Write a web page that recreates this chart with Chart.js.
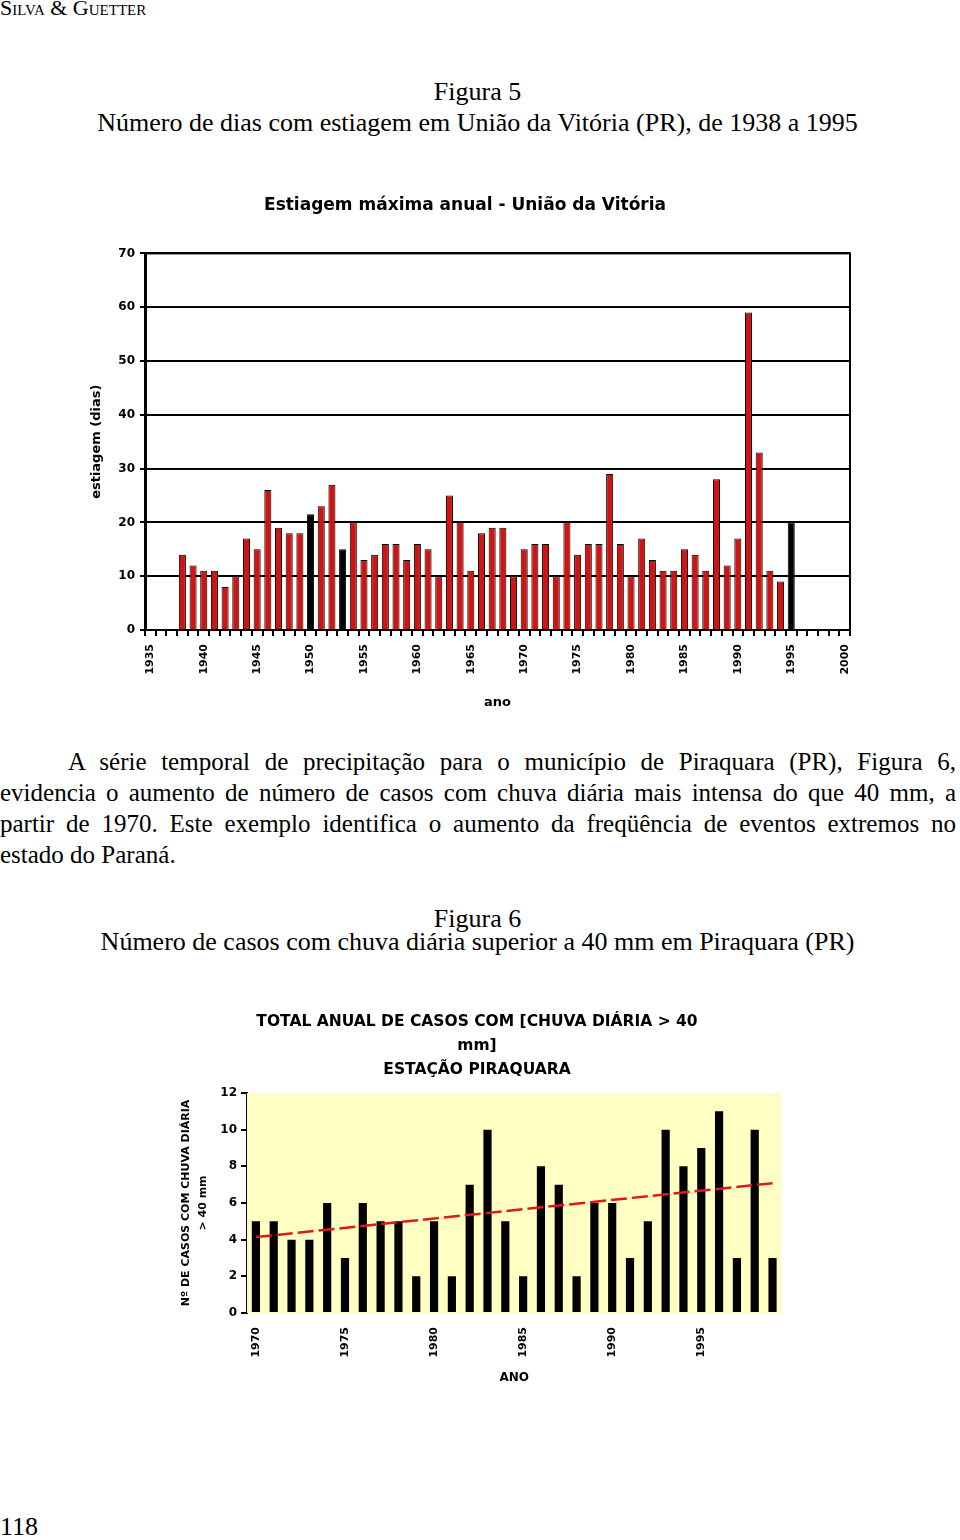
<!DOCTYPE html>
<html>
<head>
<meta charset="utf-8">
<script src="https://cdn.jsdelivr.net/npm/chart.js@4"></script>
<style>
  body { margin: 0; width: 960px; height: 1540px; background: #fff; position: relative; font-family: "Liberation Serif", "Times New Roman", serif; color: #000; }
  .t { position: absolute; font-size: 26px; line-height: 24px; white-space: nowrap; }
  .c { left: 0; width: 955px; text-align: center; }
  #cab { position: absolute; left: 0; top: -1px; font-size: 22px; line-height: 18px; font-variant: small-caps; }
  #par { position: absolute; left: 0; top: 746px; width: 956px; font-size: 25px; line-height: 31px; }
  #par div { text-align: justify; text-align-last: justify; white-space: nowrap; }
  #par div.ult { text-align-last: left; }
  #par div.ind { padding-left: 68px; }
  #box1 { position: absolute; left: 80px; top: 180px; }
  #box2 { position: absolute; left: 170px; top: 1005px; }
</style>
</head>
<body>
<div id="cab">Silva &amp; Guetter</div>
<div class="t c" style="top:80px">Figura 5</div>
<div class="t c" style="top:111px">Número de dias com estiagem em União da Vitória (PR), de 1938 a 1995</div>
<div id="box1"><canvas id="grafico1" width="790" height="540"></canvas></div>
<div id="par">
  <div class="ind">A série temporal de precipitação para o município de Piraquara (PR), Figura 6,</div>
  <div>evidencia o aumento de número de casos com chuva diária mais intensa do que 40 mm, a</div>
  <div>partir de 1970. Este exemplo identifica o aumento da freqüência de eventos extremos no</div>
  <div class="ult">estado do Paraná.</div>
</div>
<div class="t c" style="top:907px">Figura 6</div>
<div class="t c" style="top:930px">Número de casos com chuva diária superior a 40 mm em Piraquara (PR)</div>
<div id="box2"><canvas id="grafico2" width="630" height="390"></canvas></div>
<div class="t" style="left:0;top:1515px">118</div>

<script>
// Figura 5 - estiagem máxima anual, União da Vitória
const anos1 = [];
for (let a = 1935; a <= 2000; a++) anos1.push(String(a));
const estiagem = [
  null, null, null,
  14, 12, 11, 11, 8, 10, 17, 15, 26, 19,      // 1938-1947
  18, 18, 21.5, 23, 27, 15, 20, 13, 14, 16,   // 1948-1957
  16, 13, 16, 15, 10, 25, 20, 11, 18, 19,     // 1958-1967
  19, 10, 15, 16, 16, 10, 20, 14, 16, 16,     // 1968-1977
  29, 16, 10, 17, 13, 11, 11, 15, 14, 11,     // 1978-1987
  28, 12, 17, 59, 33, 11, 9, 20,              // 1988-1995
  null, null, null, null, null
];
const anosPretos = ['1950', '1953', '1995'];
const ticksY1 = [0, 10, 20, 30, 40, 50, 60, 70];

// Figura 6 - casos com chuva diária > 40 mm, Piraquara
const anos2 = [];
for (let a = 1970; a <= 1999; a++) anos2.push(String(a));
const casos = [
  5, 5, 4, 4, 6, 3, 6, 5, 5, 2,
  5, 2, 7, 10, 5, 2, 8, 7, 2, 6,
  6, 3, 5, 10, 8, 9, 11, 3, 10, 3
];
const tendencia = [ { x: '1970', y: 4.14 }, { x: '1999', y: 7.08 } ];

Chart.defaults.animation = false;
Chart.defaults.color = '#000';

const moldura = {
  id: 'moldura',
  afterDatasetsDraw(chart) {
    const a = chart.chartArea, ctx = chart.ctx;
    ctx.save();
    ctx.strokeStyle = '#000';
    ctx.lineWidth = 2;
    ctx.strokeRect(a.left, a.top, a.right - a.left, a.bottom - a.top);
    ctx.restore();
  }
};

const fundoAmarelo = {
  id: 'fundoAmarelo',
  beforeDatasetsDraw(chart) {
    const a = chart.chartArea, ctx = chart.ctx;
    ctx.save();
    ctx.fillStyle = '#FFFFC4';
    ctx.fillRect(a.left, a.top, a.right - a.left, a.bottom - a.top);
    ctx.restore();
  }
};

new Chart(document.getElementById('grafico1'), {
  type: 'bar',
  data: {
    labels: anos1,
    datasets: [{
      data: estiagem,
      backgroundColor: anos1.map(a => anosPretos.includes(a) ? '#000' : '#D01414'),
      borderColor: '#000',
      borderWidth: 1,
      barPercentage: 0.66,
      categoryPercentage: 1
    }]
  },
  options: {
    responsive: false,
    layout: { padding: { left: 0, right: 20, top: 0, bottom: 0 } },
    plugins: {
      legend: { display: false },
      tooltip: { enabled: false },
      title: {
        display: true,
        text: 'Estiagem máxima anual - União da Vitória',
        font: { family: 'DejaVu Sans', size: 17, weight: 'bold' },
        padding: { top: 15, bottom: 38 }
      }
    },
    scales: {
      y: {
        min: 0, max: 70,
        afterBuildTicks: s => { s.ticks = ticksY1.map(v => ({ value: v })); },
        afterFit: s => { s.width = 65; },
        ticks: { font: { family: 'DejaVu Sans', size: 12, weight: 'bold' }, padding: 5 },
        grid: { color: '#000', lineWidth: 2, tickLength: 5 },
        border: { color: '#000', width: 3 },
        title: {
          display: true, text: 'estiagem (dias)',
          font: { family: 'DejaVu Sans', size: 13, weight: 'bold' },
          padding: { top: 9, bottom: 0 }
        }
      },
      x: {
        afterFit: s => { s.height = 90; },
        ticks: {
          autoSkip: false, minRotation: 90, maxRotation: 90, padding: 8,
          font: { family: 'DejaVu Sans', size: 11, weight: 'bold' },
          callback: function (v, i) { const a = anos1[i]; return Number(a) % 5 === 0 ? a : ''; }
        },
        grid: { color: '#000', lineWidth: 2, tickLength: 6, drawOnChartArea: false },
        border: { color: '#000', width: 2 },
        title: {
          display: true, text: 'ano',
          font: { family: 'DejaVu Sans', size: 13, weight: 'bold' },
          padding: { top: 0, bottom: 10 }
        }
      }
    }
  },
  plugins: [moldura]
});

new Chart(document.getElementById('grafico2'), {
  data: {
    labels: anos2,
    datasets: [
      {
        type: 'line',
        data: tendencia,
        borderColor: '#DD1A1A',
        borderWidth: 2.5,
        borderDash: [16, 5],
        pointRadius: 0,
        order: 0
      },
      {
        type: 'bar',
        data: casos,
        backgroundColor: '#000',
        barPercentage: 0.46,
        categoryPercentage: 1,
        order: 1
      }
    ]
  },
  options: {
    responsive: false,
    layout: { padding: { left: 0, right: 16, top: 0, bottom: 0 } },
    plugins: {
      legend: { display: false },
      tooltip: { enabled: false },
      title: {
        display: true,
        text: ['TOTAL ANUAL DE CASOS COM [CHUVA DIÁRIA > 40', 'mm]', 'ESTAÇÃO PIRAQUARA'],
        font: { family: 'DejaVu Sans', size: 15.5, weight: 'bold', lineHeight: '24px' },
        padding: { top: 5, bottom: 11 }
      }
    },
    scales: {
      y: {
        min: 0, max: 12,
        ticks: { stepSize: 2, font: { family: 'DejaVu Sans', size: 12, weight: 'bold' }, padding: 4 },
        afterFit: s => { s.width = 77; },
        grid: { color: '#000', lineWidth: 2, tickLength: 6, drawOnChartArea: false },
        border: { color: '#000', width: 2 },
        title: {
          display: true, text: ['Nº DE CASOS COM CHUVA DIÁRIA', '> 40 mm'],
          font: { family: 'DejaVu Sans', size: 11, weight: 'bold', lineHeight: '17px' },
          padding: { top: 7.5, bottom: 0 }
        }
      },
      x: {
        afterFit: s => { s.height = 82; },
        ticks: {
          autoSkip: false, minRotation: 90, maxRotation: 90, padding: 14,
          font: { family: 'DejaVu Sans', size: 11, weight: 'bold' },
          callback: function (v, i) { return i % 5 === 0 ? anos2[i] : ''; }
        },
        grid: { display: true, drawOnChartArea: false, drawTicks: false },
        border: { display: false },
        title: {
          display: true, text: 'ANO',
          font: { family: 'DejaVu Sans', size: 12, weight: 'bold' },
          padding: { top: 0, bottom: 10 }
        }
      }
    }
  },
  plugins: [fundoAmarelo]
});
</script>
</body>
</html>
